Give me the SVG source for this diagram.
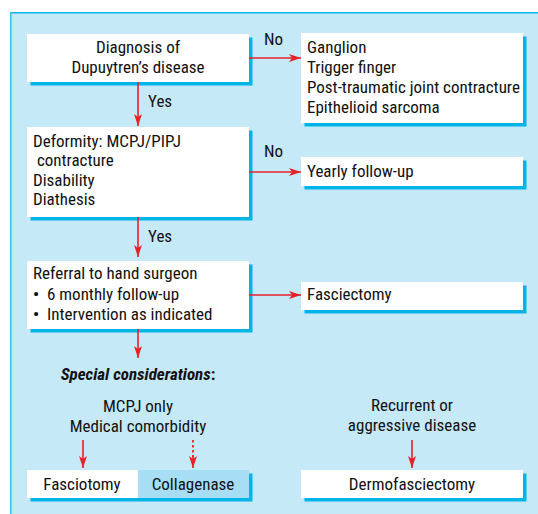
<svg xmlns="http://www.w3.org/2000/svg" width="538" height="514" viewBox="0 0 538 514">
<defs>
<style>
text{font-family:"Liberation Sans Narrow","Arial Narrow","Roboto Condensed","Liberation Sans",sans-serif;font-size:17px;fill:#111}
.c{text-anchor:middle}
.box{fill:#fff}
.sh{fill:#00b4e8}
.ln{stroke:#e8202a;stroke-width:1.6;fill:none}
.dot{stroke:#e8202a;stroke-width:1.8;fill:none;stroke-dasharray:2.5 2.5}
.bl{font-weight:bold}
</style>
<marker id="ah" viewBox="0 0 12 8" refX="12" refY="4" markerWidth="12" markerHeight="8" markerUnits="userSpaceOnUse" orient="auto">
<path d="M0,0 L12,4 L0,8 L3,4 Z" fill="#e8202a"/>
</marker>
</defs>
<rect x="0" y="0" width="538" height="514" fill="#fff"/>
<rect x="10" y="12" width="540" height="520" fill="#c6e9f8"/>
<line x1="10" y1="12.8" x2="538" y2="12.8" stroke="#00b4e8" stroke-width="1.6"/>
<line x1="10.8" y1="12" x2="10.8" y2="514" stroke="#3cc3ef" stroke-width="1.6"/>

<g id="n1">
<rect class="sh" x="30.5" y="37.5" width="222" height="48"/>
<rect class="box" x="27" y="34" width="222" height="48"/>
<text class="c" x="138" y="53">Diagnosis of</text>
<text class="c" x="138" y="73">Dupuytren’s disease</text>
</g>
<g id="n2">
<rect class="sh" x="304.5" y="36.5" width="222" height="90"/>
<rect class="box" x="301" y="33" width="222" height="90"/>
<text x="307" y="53">Ganglion</text>
<text x="307" y="73">Trigger finger</text>
<text x="307" y="93">Post-traumatic joint contracture</text>
<text x="307" y="113">Epithelioid sarcoma</text>
</g>
<g id="n3">
<rect class="sh" x="30.5" y="130.5" width="222" height="90"/>
<rect class="box" x="27" y="127" width="222" height="90"/>
<text x="33" y="147">Deformity: MCPJ/PIPJ</text>
<text x="33" y="166" xml:space="preserve"> contracture</text>
<text x="33" y="186">Disability</text>
<text x="33" y="205">Diathesis</text>
</g>
<g id="n4">
<rect class="sh" x="304.5" y="160.5" width="222" height="29"/>
<rect class="box" x="301" y="157" width="222" height="29"/>
<text x="307" y="177">Yearly follow-up</text>
</g>
<g id="n5">
<rect class="sh" x="30.5" y="264.5" width="222" height="68"/>
<rect class="box" x="27" y="261" width="222" height="68"/>
<text x="33" y="279">Referral to hand surgeon</text>
<text x="33" y="300" class="bl">•</text>
<text x="47" y="300">6 monthly follow-up</text>
<text x="33" y="320" class="bl">•</text>
<text x="47" y="320">Intervention as indicated</text>
</g>
<g id="n6">
<rect class="sh" x="304.5" y="285.5" width="222" height="28"/>
<rect class="box" x="301" y="282" width="222" height="28"/>
<text x="307" y="300">Fasciectomy</text>
</g>
<g id="n7">
<text class="c" x="138" y="380"><tspan font-weight="bold" font-style="italic">Special considerations</tspan><tspan font-weight="bold">:</tspan></text>
<text class="c" x="138" y="412">MCPJ only</text>
<text class="c" x="138" y="432">Medical comorbidity</text>
</g>
<g id="n8">
<text class="c" x="412" y="411">Recurrent or</text>
<text class="c" x="412" y="431">aggressive disease</text>
</g>
<g id="n9">
<rect class="sh" x="30.5" y="473.5" width="222" height="28"/>
<rect class="box" x="27" y="470" width="111" height="28"/>
<text class="c" x="82" y="490">Fasciotomy</text>
</g>
<g id="n10">
<rect x="138" y="470" width="111" height="28" fill="#a7ddf5"/>
<text class="c" x="193" y="490">Collagenase</text>
</g>
<g id="n11">
<rect class="sh" x="304.5" y="473.5" width="222" height="28"/>
<rect class="box" x="301" y="470" width="222" height="28"/>
<text class="c" x="412" y="490">Dermofasciectomy</text>
</g>

<g id="connectors">
<line class="ln" x1="138" y1="82" x2="138" y2="126" marker-end="url(#ah)"/>
<text x="148" y="107">Yes</text>
<line class="ln" x1="249" y1="58" x2="301" y2="58" marker-end="url(#ah)"/>
<text x="264" y="45">No</text>
<line class="ln" x1="138" y1="217" x2="138" y2="257" marker-end="url(#ah)"/>
<text x="148" y="242">Yes</text>
<line class="ln" x1="249" y1="172" x2="301" y2="172" marker-end="url(#ah)"/>
<text x="264" y="157">No</text>
<line class="ln" x1="249" y1="295" x2="301" y2="295" marker-end="url(#ah)"/>
<line class="ln" x1="138" y1="329" x2="138" y2="358" marker-end="url(#ah)"/>
<line class="ln" x1="83" y1="440" x2="83" y2="468" marker-end="url(#ah)"/>
<line class="dot" x1="193" y1="440" x2="193" y2="458"/>
<line class="ln" x1="193" y1="456" x2="193" y2="468" marker-end="url(#ah)"/>
<line class="ln" x1="412" y1="440" x2="412" y2="468" marker-end="url(#ah)"/>
</g>
</svg>
